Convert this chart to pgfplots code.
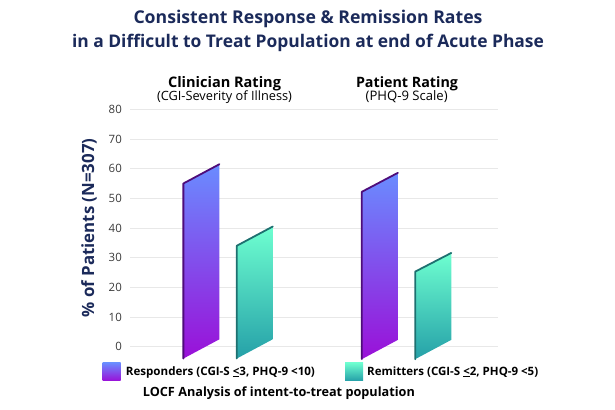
\documentclass[border=0pt]{standalone}
\usepackage{fontspec}
\setmainfont{Open Sans}
\usepackage{pgfplots}
\pgfplotsset{compat=1.18}

\definecolor{navy}{HTML}{1B2A5A}
\definecolor{respTop}{HTML}{6A8CFF}
\definecolor{respBot}{HTML}{9A10D8}
\definecolor{respEdge}{HTML}{4E0C7A}
\definecolor{remTop}{HTML}{6EFFD0}
\definecolor{remBot}{HTML}{25A0A8}
\definecolor{remEdge}{HTML}{1E7070}
\definecolor{gridgray}{HTML}{E8E8E8}
\definecolor{ticktext}{HTML}{3A3A3A}

% set text #3 (with font switches #2) so that it is #1 bp wide
\newlength\fitw
\newcommand\fitto[3]{%
  \settowidth\fitw{\fontsize{10}{12}\selectfont#2#3}%
  \pgfmathsetmacro\fitsize{10*#1*1.00375/(\fitw/1pt)}%
  \fontsize{\fitsize}{\fitsize}\selectfont#2#3}

\begin{document}
\begin{tikzpicture}
  \path[use as bounding box] (0,0) rectangle (615bp,410bp);

  % titles
  \node[anchor=base, text=navy, inner sep=0pt] at (308bp,386bp)
    {\fitto{349}{\bfseries}{Consistent Response \& Remission Rates}};
  \node[anchor=base, text=navy, inner sep=0pt] at (308bp,362.3bp)
    {\fitto{472}{\bfseries}{in a Difficult to Treat Population at end of Acute Phase}};
  \node[anchor=base, inner sep=0pt] at (224.5bp,322.7bp)
    {\fitto{113}{\bfseries}{Clinician Rating}};
  \node[anchor=base, inner sep=0pt] at (224.5bp,309.2bp)
    {\fitto{135}{}{(CGI-Severity of Illness)}};
  \node[anchor=base, inner sep=0pt] at (407bp,322.7bp)
    {\fitto{102}{\bfseries}{Patient Rating}};
  \node[anchor=base, inner sep=0pt] at (406.7bp,309.2bp)
    {\fitto{82}{}{(PHQ-9 Scale)}};
  \node[text=navy, rotate=90, inner sep=0pt] at (89bp,182bp)
    {\fitto{179}{\bfseries}{\% of Patients (N=307)}};

  \begin{axis}[
    at={(130bp,63.3bp)}, anchor=south west,
    scale only axis,
    width=368bp, height=237.4bp,
    xmin=0, xmax=10,
    ymin=0, ymax=80,
    clip=false,
    axis line style={draw=none},
    xtick=\empty,
    ytick={0,10,...,80},
    major tick length=0pt,
    ymajorgrids,
    grid style={gridgray, line width=0.8pt},
    /pgf/number format/assume math mode=true,
    yticklabel style={font=\fontsize{11.5}{13}\selectfont, text=ticktext,
      inner sep=0pt, xshift=-8bp},
    no markers,
  ]
    % Clinician Rating, responders
    \addplot[draw=none, top color=respTop, bottom color=respBot]
      coordinates {(1.45,-4) (2.43,2.5) (2.43,61.5) (1.45,55)} -- cycle;
    \addplot[respEdge, line width=1.8pt, line join=round, line cap=round]
      coordinates {(1.45,-4) (1.45,55) (2.43,61.5)};
    % Clinician Rating, remitters
    \addplot[draw=none, top color=remTop, bottom color=remBot]
      coordinates {(2.90,-4) (3.88,2.5) (3.88,40.5) (2.90,34)} -- cycle;
    \addplot[remEdge, line width=1.8pt, line join=round, line cap=round]
      coordinates {(2.90,-4) (2.90,34) (3.88,40.5)};
    % Patient Rating, responders
    \addplot[draw=none, top color=respTop, bottom color=respBot]
      coordinates {(6.30,-4.2) (7.28,2.3) (7.28,58.6) (6.30,52.2)} -- cycle;
    \addplot[respEdge, line width=1.8pt, line join=round, line cap=round]
      coordinates {(6.30,-4.2) (6.30,52.2) (7.28,58.6)};
    % Patient Rating, remitters
    \addplot[draw=none, top color=remTop, bottom color=remBot]
      coordinates {(7.75,-4.2) (8.73,2.3) (8.73,31.6) (7.75,25.3)} -- cycle;
    \addplot[remEdge, line width=1.8pt, line join=round, line cap=round]
      coordinates {(7.75,-4.2) (7.75,25.3) (8.73,31.6)};
  \end{axis}

  % legend
  \shade[top color=respTop, bottom color=respBot] (102.7bp,29.3bp) rectangle (120.7bp,47.3bp);
  \node[anchor=base west, inner sep=0pt] at (125.7bp,35bp)
    {\fitto{189}{\bfseries}{Responders (CGI-S \underline{<}3, PHQ-9 <10)}};
  \shade[top color=remTop, bottom color=remBot] (345bp,29.3bp) rectangle (363bp,47.3bp);
  \node[anchor=base west, inner sep=0pt] at (367bp,35bp)
    {\fitto{171}{\bfseries}{Remitters (CGI-S \underline{<}2, PHQ-9 <5)}};
  \node[anchor=base west, inner sep=0pt] at (142.7bp,14bp)
    {\fitto{272}{\bfseries}{LOCF Analysis of intent-to-treat population}};
\end{tikzpicture}
\end{document}
